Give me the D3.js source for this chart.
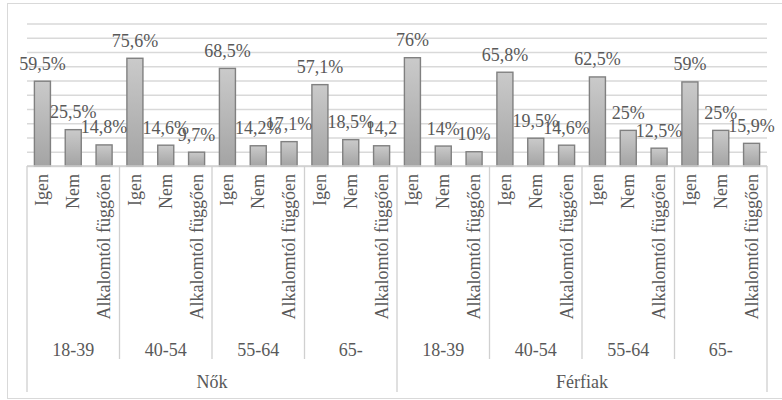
<!DOCTYPE html>
<html>
<head>
<meta charset="utf-8">
<script src="https://cdn.jsdelivr.net/npm/d3@7"></script>
<style>
  html, body { margin: 0; padding: 0; background: #fff; }
  svg { display: block; }
</style>
</head>
<body>
<svg id="chart" width="782" height="400"></svg>
<script>
// Answers per gender and age group
const genders = ["Nők", "Férfiak"];
const ageGroups = ["18-39", "40-54", "55-64", "65-"];
const answers = ["Igen", "Nem", "Alkalomtól függően"];

const valuesNok = [
  59.5, 25.5, 14.8,
  75.6, 14.6, 9.7,
  68.5, 14.2, 17.1,
  57.1, 18.5, 14.2
];
const valuesFerfiak = [
  76, 14, 10,
  65.8, 19.5, 14.6,
  62.5, 25, 12.5,
  59, 25, 15.9
];
const labelsNok = [
  "59,5%", "25,5%", "14,8%",
  "75,6%", "14,6%", "9,7%",
  "68,5%", "14,2%", "17,1%",
  "57,1%", "18,5%", "14,2"
];
const labelsFerfiak = [
  "76%", "14%", "10%",
  "65,8%", "19,5%", "14,6%",
  "62,5%", "25%", "12,5%",
  "59%", "25%", "15,9%"
];
const yTicks = [0, 10, 20, 30, 40, 50, 60, 70, 80, 90, 100];

// Flatten into one row per bar
const rows = [];
[valuesNok, valuesFerfiak].forEach((vals, gi) => {
  const labs = gi === 0 ? labelsNok : labelsFerfiak;
  vals.forEach((v, i) => {
    rows.push({
      key: gi + "-" + i,
      gender: genders[gi],
      age: ageGroups[Math.floor(i / 3)],
      answer: answers[i % 3],
      value: v,
      label: labs[i]
    });
  });
});

// Pick the first installed Times-like face
function pickFont(candidates) {
  const ctx = document.createElement("canvas").getContext("2d");
  const sample = "Alkalomtól függően Igen 59,5% WMmil";
  const widthWith = f => { ctx.font = "40px " + f; return ctx.measureText(sample).width; };
  const baseMono = widthWith("monospace");
  const baseSans = widthWith("sans-serif");
  for (const c of candidates) {
    const q = `"${c}"`;
    if (widthWith(q + ", monospace") !== baseMono || widthWith(q + ", sans-serif") !== baseSans) {
      return q;
    }
  }
  return "serif";
}
const FONT = pickFont(["Liberation Serif", "Times New Roman", "Tinos", "Times", "Noto Serif", "DejaVu Serif", "FreeSerif", "Nimbus Roman"]) + ", serif";
const TEXT_COLOR = "#595959";

const svg = d3.select("#chart")
  .attr("font-family", FONT);
const plotLeft = 27, plotRight = 767, plotTop = 23.5, plotBase = 166;

// Outer frame
svg.append("rect")
  .attr("x", 7.5).attr("y", 3.5)
  .attr("width", 790).attr("height", 395)
  .attr("fill", "none").attr("stroke", "#d9d9d9").attr("stroke-width", 1);

const x = d3.scaleBand()
  .domain(rows.map(d => d.key))
  .range([plotLeft, plotRight])
  .paddingInner(0.48)
  .paddingOuter(0.24);

const y = d3.scaleLinear().domain([0, 100]).range([plotBase, plotTop]);

// Horizontal gridlines
const grid = svg.append("g")
  .attr("transform", `translate(${plotLeft},0)`)
  .call(d3.axisLeft(y).tickValues(yTicks).tickSize(-(plotRight - plotLeft)).tickFormat(""));
grid.select(".domain").remove();
grid.selectAll(".tick line").attr("stroke", "#d9d9d9").attr("stroke-width", 1.3);

// Bar gradient
const defs = svg.append("defs");
const grad = defs.append("linearGradient")
  .attr("id", "barFill").attr("x1", 0).attr("y1", 0).attr("x2", 0).attr("y2", 1);
grad.append("stop").attr("offset", "0%").attr("stop-color", "#cacaca");
grad.append("stop").attr("offset", "100%").attr("stop-color", "#a4a4a4");

// Bars
svg.append("g").selectAll("rect")
  .data(rows)
  .join("rect")
  .attr("x", d => x(d.key))
  .attr("y", d => y(d.value))
  .attr("width", x.bandwidth())
  .attr("height", d => plotBase - y(d.value))
  .attr("fill", "url(#barFill)")
  .attr("stroke", "#808080")
  .attr("stroke-width", 1.4);

// Text layer
const textLayer = svg.append("g")
  .attr("font-family", FONT)
  .attr("font-size", 18)
  .attr("fill", TEXT_COLOR);

// Value labels
textLayer.append("g").selectAll("text")
  .data(rows)
  .join("text")
  .attr("x", d => x(d.key) + x.bandwidth() / 2)
  .attr("y", d => y(d.value) - 11.5)
  .attr("text-anchor", "middle")
  .text(d => d.label);

// Category axis: baseline and separators
const axis = svg.append("g").attr("stroke", "#d0d0d0").attr("stroke-width", 1.3);
axis.append("line").attr("x1", plotLeft).attr("x2", plotRight).attr("y1", plotBase).attr("y2", plotBase);

const step = x.step();
const ageBounds = d3.range(0, 25, 3).map(i => plotLeft + i * step);
ageBounds.forEach((bx, i) => {
  const full = i === 0 || i === 4 || i === 8;
  axis.append("line")
    .attr("x1", bx).attr("x2", bx)
    .attr("y1", plotBase).attr("y2", full ? 392 : 359);
});

// Answer labels (rotated)
textLayer.append("g").selectAll("text")
  .data(rows)
  .join("text")
  .attr("transform", d => `translate(${x(d.key) + x.bandwidth() / 2},174) rotate(-90)`)
  .attr("text-anchor", "end")
  .attr("dy", "0.33em")
  .text(d => d.answer);

// Age group labels
const ageCells = [];
genders.forEach(g => ageGroups.forEach(a => ageCells.push({ g, a })));
textLayer.append("g").selectAll("text")
  .data(ageCells)
  .join("text")
  .attr("x", (d, i) => plotLeft + (i * 3 + 1.5) * step)
  .attr("y", 356)
  .attr("text-anchor", "middle")
  .text(d => d.a);

// Gender labels
textLayer.append("g").selectAll("text")
  .data(genders)
  .join("text")
  .attr("x", (d, i) => plotLeft + (i * 12 + 6) * step)
  .attr("y", 388)
  .attr("text-anchor", "middle")
  .text(d => d);
</script>
</body>
</html>
